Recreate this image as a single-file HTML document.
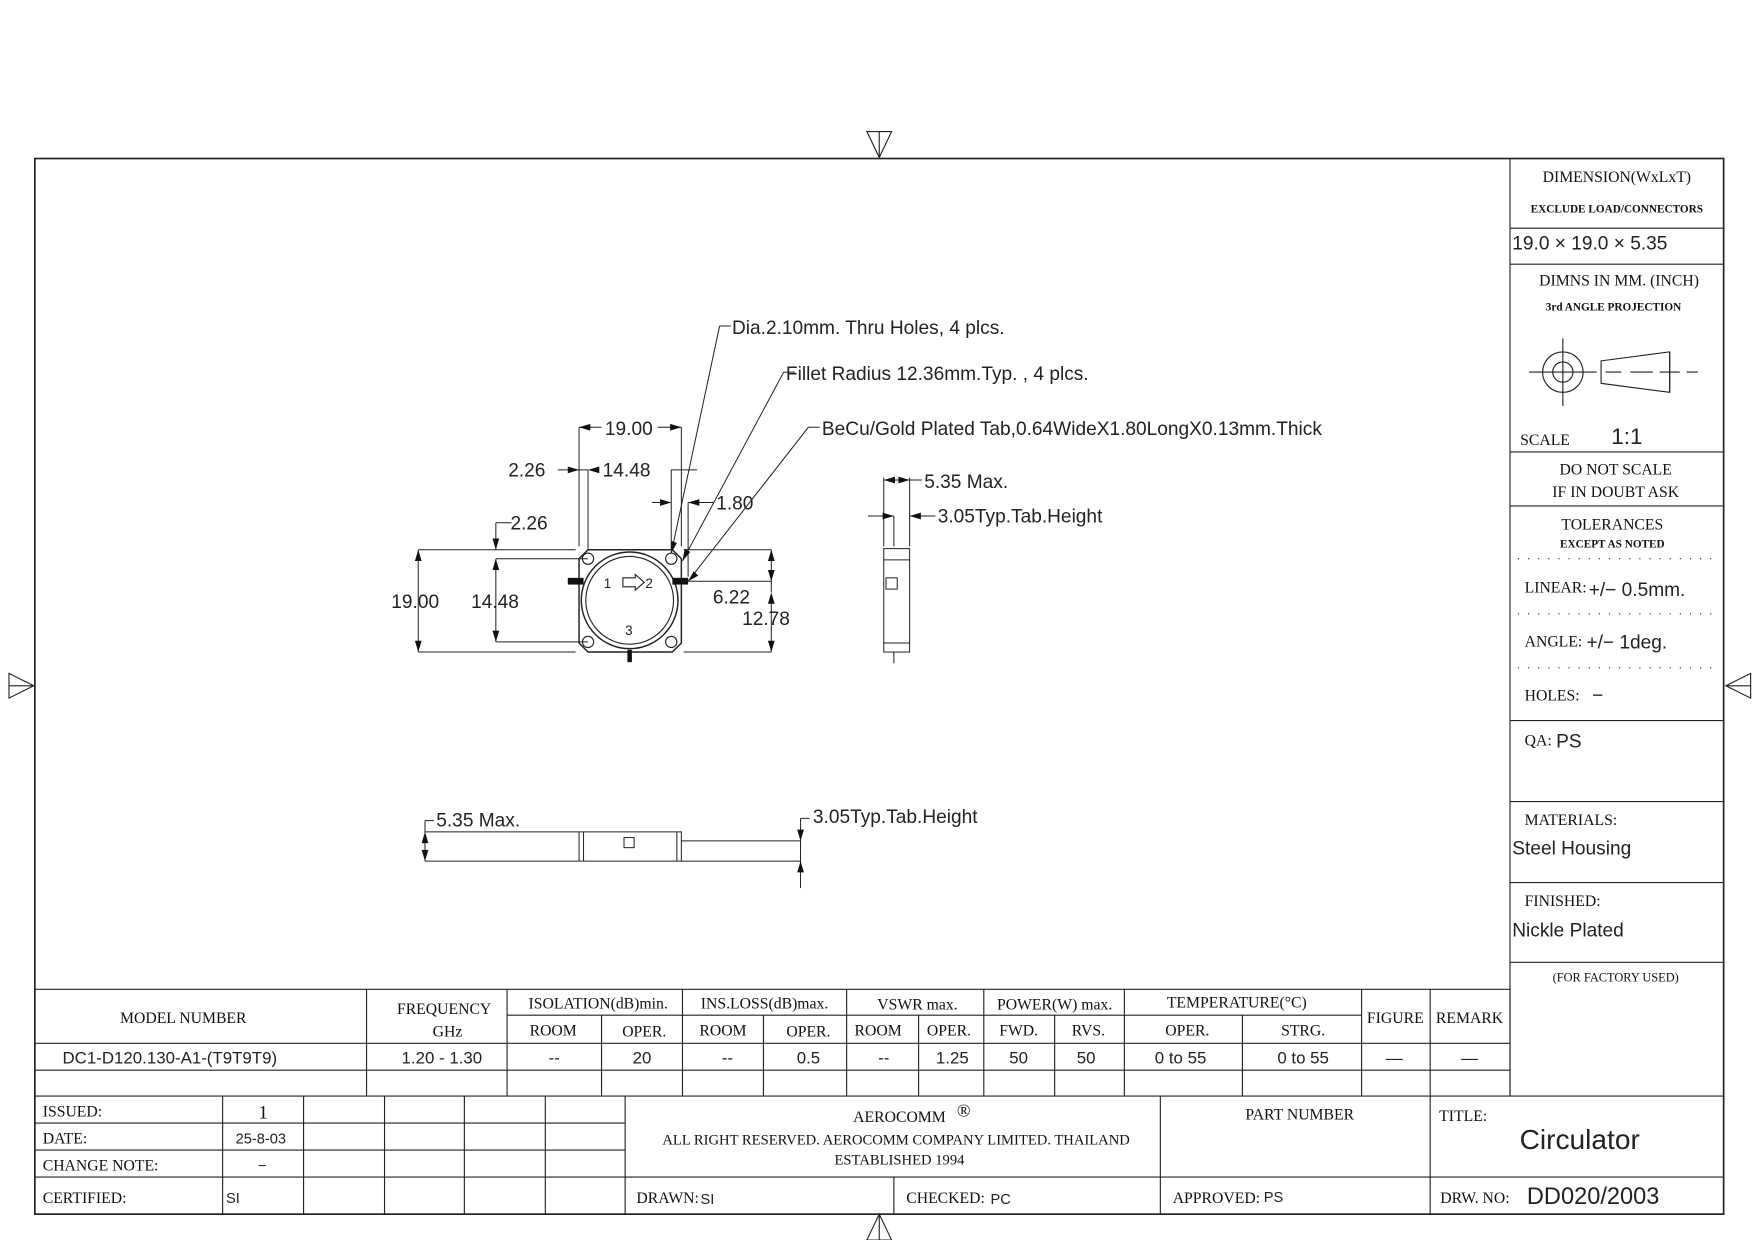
<!DOCTYPE html>
<html><head><meta charset="utf-8"><style>
html,body{margin:0;padding:0;background:#fff}
svg{display:block}
.s{font-family:"Liberation Sans",sans-serif;fill:#222;font-size:17px}
.r{font-family:"Liberation Serif",serif;fill:#111;font-size:14px}
.rs{font-family:"Liberation Serif",serif;fill:#111;font-size:11px;font-weight:bold}
</style></head><body>
<svg width="1754" height="1240" viewBox="0 0 1560 1103" preserveAspectRatio="none" xmlns="http://www.w3.org/2000/svg">
<g stroke="#222" fill="none" stroke-width="1">
<!-- frame -->
<rect x="31" y="141" width="1502" height="939" stroke-width="1.5"/>
<!-- markers -->
<path d="M771 117 L793 117 L782 140 Z M782 117 V140"/>
<path d="M771 1103 L793 1103 L782 1080 Z M782 1103 V1080"/>
<path d="M8 599 L8 621 L30 610 Z M8 610 H30"/>
<path d="M1557 599 L1557 621 L1535 610 Z M1557 610 H1535"/>
<!-- right column -->
<path d="M1343 141 V975 M1343 203 H1533 M1343 235 H1533 M1343 402 H1533 M1343 450 H1533 M1343 641 H1533 M1343 713 H1533 M1343 785 H1533 M1343 856 H1533"/>
<path d="M1350 497 H1525 M1350 546 H1525 M1350 594 H1525" stroke-dasharray="1 8"/>
<!-- projection symbol -->
<circle cx="1390" cy="331" r="18"/><circle cx="1390" cy="331" r="9"/>
<path d="M1360 331 H1420 M1390 301 V361 M1385 331 H1395 M1390 326 V336"/>
<path d="M1424 321 L1485 313 L1485 349 L1424 341 Z"/>
<path d="M1428 331 H1442 M1450 331 H1470 M1476 331 H1494 M1500 331 H1510 M1485 313 V349"/>
<!-- table -->
<path d="M31 880 H1343 M31 928 H1343 M31 952 H1343 M31 975 H1533 M451 903 H1211"/>
<path d="M326 880 V975 M451 880 V975 M607 880 V975 M753 880 V975 M875 880 V975 M1000 880 V975 M1211 880 V975 M1272 880 V975 M1343 880 V975"/>
<path d="M535 903 V975 M679 903 V975 M817 903 V975 M938 903 V975 M1105 903 V975"/>
<!-- title block -->
<path d="M198 975 V1080 M270 975 V1080 M342 975 V1080 M413 975 V1080 M485 975 V1080 M556 975 V1080"/>
<path d="M31 999 H198 M198 999 H556 M31 1023 H556 M31 1047 H1533 M1032 975 V1080 M1272 975 V1080 M795 1047 V1080"/>
<!-- front view body -->
<path d="M523 489 H598 L606 497 V572 L598 580 H523 L515 572 V497 Z" stroke-width="1.3"/>
<circle cx="560" cy="534" r="43" stroke-width="1.3"/><circle cx="560" cy="534" r="39"/>
<circle cx="523" cy="497" r="5"/><circle cx="597" cy="497" r="5"/><circle cx="523" cy="571" r="5"/><circle cx="597" cy="571" r="5"/>
<path d="M554 514 H565 V511 L573 518 L565 525 V522 H554 Z"/>
</g>
<g fill="#111">
<rect x="505" y="514" width="14" height="6"/><rect x="598" y="514" width="14" height="6"/><rect x="558" y="578" width="4" height="11"/>
</g>
<g stroke="#222" fill="none" stroke-width="0.9">
<!-- dimension lines front -->
<path d="M372 489 H512 M372 580 H512 M608 489 H686 M608 580 H686 M372 489 V580"/>
<path d="M441 497 H523 M441 571 H523 M441 497 V571 M441 465 V489 M441 465 H455"/>
<path d="M686 489 V527 M686 534 V580 M612 517 H686"/>
<path d="M515 380 V486 M606 380 V486 M515 380 H535 M585 380 H606"/>
<path d="M523 418 V489 M597 418 V489 M496 418 H523 M597 418 H620 M597 447 V489 M612 447 V513 M580 447 H597 M612 447 H635"/>
<!-- leaders -->
<path d="M640 290 H650 M640 290 L597 492 M697 331 H707 M697 331 L607 499 M719 380 H729 M719 380 L612 517"/>
<!-- side view -->
<rect x="786" y="488" width="23" height="92"/><path d="M786 498 H809 M786 572 H809 M795 580 V590"/>
<rect x="788" y="514" width="10" height="10"/>
<path d="M786 425 V486 M809 425 V486 M786 427 H820 M795 459 V486 M809 459 V486 M772 459 H795 M809 459 H832"/>
<!-- bottom view -->
<path d="M515 740 H606 V766 H515 Z M519 740 V766 M602 740 V766"/>
<rect x="555" y="745" width="9" height="9"/>
<path d="M378 740 H515 M378 766 H515 M606 748 H712 M606 766 H712 M378 730 V766 M378 730 H386 M712 728 V790 M712 728 H720"/>
</g>
<!-- arrowheads -->
<g fill="#111">
<path d="M372 489 l-3 10 h6 Z M372 580 l-3 -10 h6 Z M441 497 l-3 10 h6 Z M441 571 l-3 -10 h6 Z M441 489 l-3 -10 h6 Z"/>
<path d="M686 489 l-3 10 h6 Z M686 517 l-3 -10 h6 Z M686 527 l-3 10 h6 Z M686 580 l-3 -10 h6 Z"/>
<path d="M515 380 l10 -3 v6 Z M606 380 l-10 -3 v6 Z M515 418 l-10 -3 v6 Z M523 418 l10 -3 v6 Z M597 447 l-10 -3 v6 Z M612 447 l10 -3 v6 Z"/>
<path d="M597 492 l0 -11 l5 2 Z M607 499 l2 -11 l5 3 Z M612 517 l5 -9 l4 4 Z"/>
<path d="M786 427 l10 -3 v6 Z M809 427 l-10 -3 v6 Z M795 459 l-10 -3 v6 Z M809 459 l10 -3 v6 Z"/>
<path d="M378 740 l-3 10 h6 Z M378 766 l-3 -10 h6 Z M712 748 l-3 -10 h6 Z M712 766 l-3 10 h6 Z"/>
</g>
<!-- drawing text -->
<g class="s">
<text x="651" y="297">Dia.2.10mm. Thru Holes, 4 plcs.</text>
<text x="699" y="338">Fillet Radius 12.36mm.Typ. , 4 plcs.</text>
<text x="731" y="387">BeCu/Gold Plated Tab,0.64WideX1.80LongX0.13mm.Thick</text>
<text x="538" y="387">19.00</text>
<text x="452" y="424">2.26</text><text x="536" y="424">14.48</text>
<text x="637" y="453">1.80</text>
<text x="454" y="471">2.26</text>
<text x="348" y="541">19.00</text><text x="419" y="541">14.48</text>
<text x="634" y="537">6.22</text><text x="660" y="556">12.78</text>
<text x="537" y="523" font-size="12">1</text><text x="574" y="523" font-size="12">2</text><text x="556" y="565" font-size="12">3</text>
<text x="822" y="434">5.35 Max.</text>
<text x="834" y="465">3.05Typ.Tab.Height</text>
<text x="388" y="735">5.35 Max.</text>
<text x="723" y="732">3.05Typ.Tab.Height</text>
</g>
<!-- right column text -->
<g class="r">
<text x="1438" y="162" text-anchor="middle">DIMENSION(WxLxT)</text>
<text x="1438" y="189" text-anchor="middle" class="rs" style="font-size:10px">EXCLUDE LOAD/CONNECTORS</text>
<text x="1440" y="254" text-anchor="middle">DIMNS IN MM. (INCH)</text>
<text x="1435" y="276" text-anchor="middle" class="rs" style="font-size:10px">3rd ANGLE PROJECTION</text>
<text x="1352" y="396">SCALE</text>
<text x="1437" y="422" text-anchor="middle">DO NOT SCALE</text>
<text x="1437" y="442" text-anchor="middle">IF IN DOUBT ASK</text>
<text x="1434" y="471" text-anchor="middle">TOLERANCES</text>
<text x="1434" y="487" text-anchor="middle" class="rs" style="font-size:10px">EXCEPT AS NOTED</text>
<text x="1356" y="527">LINEAR:</text>
<text x="1356" y="575">ANGLE:</text>
<text x="1356" y="623">HOLES:</text>
<text x="1356" y="663">QA:</text>
<text x="1356" y="734">MATERIALS:</text>
<text x="1356" y="806">FINISHED:</text>
<text x="1437" y="873" text-anchor="middle" style="font-size:11px">(FOR FACTORY USED)</text>
</g>
<g class="s">
<text x="1345" y="222">19.0 × 19.0 × 5.35</text>
<text x="1433" y="395" font-size="20">1:1</text>
<text x="1413" y="530">+/−  0.5mm.</text>
<text x="1411" y="577">+/−  1deg.</text>
<text x="1416" y="624">−</text>
<text x="1384" y="665">PS</text>
<text x="1345" y="760">Steel Housing</text>
<text x="1345" y="833">Nickle Plated</text>
</g>
<!-- table text -->
<g class="r" text-anchor="middle">
<text x="163" y="910">MODEL NUMBER</text>
<text x="395" y="902">FREQUENCY</text><text x="398" y="922">GHz</text>
<text x="532" y="897">ISOLATION(dB)min.</text>
<text x="680" y="897">INS.LOSS(dB)max.</text>
<text x="816" y="898">VSWR max.</text>
<text x="938" y="898">POWER(W) max.</text>
<text x="1100" y="896">TEMPERATURE(°C)</text>
<text x="1241" y="910">FIGURE</text><text x="1307" y="910">REMARK</text>
<text x="492" y="921">ROOM</text><text x="573" y="922">OPER.</text>
<text x="643" y="921">ROOM</text><text x="719" y="922">OPER.</text>
<text x="781" y="921">ROOM</text><text x="844" y="921">OPER.</text>
<text x="906" y="921">FWD.</text><text x="968" y="921">RVS.</text>
<text x="1056" y="921">OPER.</text><text x="1159" y="921">STRG.</text>
</g>
<g class="s" text-anchor="middle" style="font-size:15px">
<text x="151" y="946">DC1-D120.130-A1-(T9T9T9)</text>
<text x="393" y="946">1.20 - 1.30</text>
<text x="493" y="946">--</text><text x="571" y="946">20</text>
<text x="647" y="946">--</text><text x="719" y="946">0.5</text>
<text x="786" y="946">--</text><text x="847" y="946">1.25</text>
<text x="906" y="946">50</text><text x="966" y="946">50</text>
<text x="1050" y="946">0 to 55</text><text x="1159" y="946">0 to 55</text>
<text x="1240" y="946">—</text><text x="1307" y="946">—</text>
</g>
<!-- title block text -->
<g class="r">
<text x="38" y="993">ISSUED:</text><text x="38" y="1017">DATE:</text><text x="38" y="1041">CHANGE NOTE:</text><text x="38" y="1070">CERTIFIED:</text>
<text x="234" y="995" text-anchor="middle" style="font-size:17px">1</text>
<text x="566" y="1070">DRAWN:</text><text x="806" y="1070">CHECKED:</text><text x="1043" y="1070">APPROVED:</text>
<text x="1281" y="1070">DRW. NO:</text>
<text x="1280" y="997">TITLE:</text>
<text x="1156" y="996" text-anchor="middle">PART NUMBER</text>
<text x="800" y="998" text-anchor="middle">AEROCOMM</text>
<text x="851" y="993" style="font-size:16px">®</text>
<text x="797" y="1018" text-anchor="middle" style="font-size:13px">ALL RIGHT RESERVED. AEROCOMM COMPANY LIMITED. THAILAND</text>
<text x="800" y="1036" text-anchor="middle" style="font-size:13px">ESTABLISHED 1994</text>
</g>
<g class="s" style="font-size:13px">
<text x="232" y="1017" text-anchor="middle">25-8-03</text>
<text x="233" y="1041" text-anchor="middle">−</text>
<text x="201" y="1070">SI</text>
<text x="623" y="1071">SI</text><text x="881" y="1071">PC</text><text x="1124" y="1069">PS</text>
</g>
<text x="1405" y="1022" text-anchor="middle" class="s" style="font-size:25px">Circulator</text>
<text x="1358" y="1071" class="s" style="font-size:21px">DD020/2003</text>
</svg>
</body></html>
